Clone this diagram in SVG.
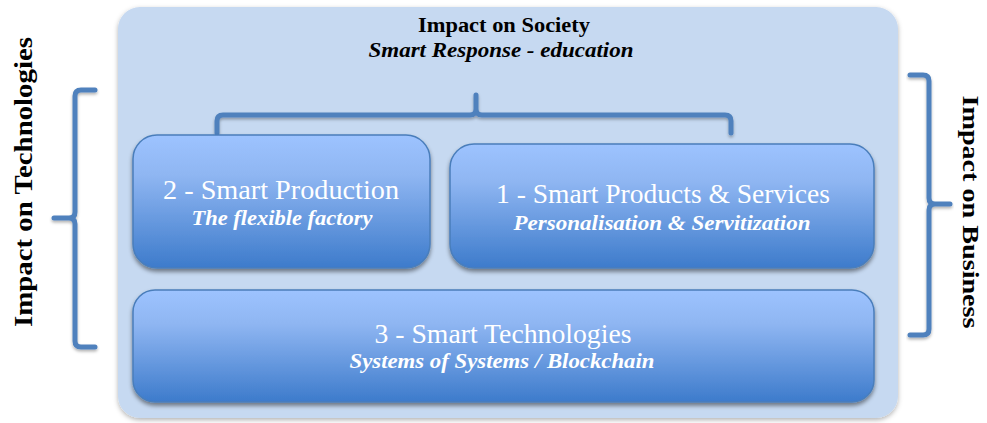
<svg xmlns="http://www.w3.org/2000/svg" width="987" height="423" viewBox="0 0 987 423">
<style>
.title{font-family:"Liberation Serif","DejaVu Serif",serif;font-weight:bold;fill:#000}
.sub{font-family:"Liberation Serif","DejaVu Serif",serif;font-weight:bold;font-style:italic;fill:#000}
.ntitle{font-family:"Liberation Serif","DejaVu Serif",serif;fill:#fff;font-size:27px}
.nsub{font-family:"Liberation Serif","DejaVu Serif",serif;font-weight:bold;font-style:italic;fill:#fff;font-size:20px}
.node{fill:url(#g);stroke:#4a7ebb;stroke-width:1.5;filter:url(#ns)}
.br{fill:none;stroke:#4f81bd;stroke-width:5;stroke-linecap:round;stroke-linejoin:round;filter:url(#bs)}
</style>
<defs>
<linearGradient id="g" x1="0" y1="0" x2="0" y2="1">
<stop offset="0" stop-color="#9dc3ff"/>
<stop offset="0.3" stop-color="#8fb6f2"/>
<stop offset="1" stop-color="#3d7bcb"/>
</linearGradient>
<filter id="ps" x="-5%" y="-5%" width="110%" height="110%">
<feDropShadow dx="0" dy="2" stdDeviation="2.5" flood-color="#000" flood-opacity="0.3"/>
</filter>
<filter id="ns" x="-5%" y="-10%" width="110%" height="125%">
<feDropShadow dx="0" dy="3" stdDeviation="2" flood-color="#000" flood-opacity="0.45"/>
</filter>
<filter id="bs" x="-10%" y="-10%" width="120%" height="130%">
<feDropShadow dx="0" dy="2" stdDeviation="1.5" flood-color="#000" flood-opacity="0.3"/>
</filter>
</defs>
<rect width="987" height="423" fill="#fff"/>
<g id="panel">
<rect x="118" y="7" width="780" height="411" rx="22" fill="#c6d9f1" filter="url(#ps)"/>
<text class="title" x="504" y="32" font-size="20" text-anchor="middle" textLength="172" lengthAdjust="spacingAndGlyphs">Impact on Society</text>
<text class="sub" x="501" y="57" font-size="20" text-anchor="middle" textLength="265" lengthAdjust="spacingAndGlyphs">Smart Response - education</text>
</g>
<g id="connectors">
<path class="br" d="M217,133 V121 Q217,115 223,115 H470 Q476,115 476,109 V95 M476,109 Q476,115 482,115 H725 Q731,115 731,121 V133"/>
<path class="br" d="M95,90 H81 Q75,90 75,96 V212 Q75,218 69,218 H54 M69,218 Q75,218 75,224 V341 Q75,347 81,347 H95"/>
<path class="br" d="M910,75 H923 Q929,75 929,81 V198 Q929,204 935,204 H950 M935,204 Q929,204 929,210 V329 Q929,335 923,335 H910"/>
</g>
<g id="node-2">
<rect class="node" x="133" y="135" width="297" height="133" rx="24"/>
<text class="ntitle" x="281" y="199" text-anchor="middle" textLength="236" lengthAdjust="spacingAndGlyphs">2 - Smart Production</text>
<text class="nsub" x="282" y="225" text-anchor="middle" textLength="181" lengthAdjust="spacingAndGlyphs">The flexible factory</text>
</g>
<g id="node-1">
<rect class="node" x="450" y="144" width="424" height="124" rx="24"/>
<text class="ntitle" x="663" y="203" text-anchor="middle" textLength="334" lengthAdjust="spacingAndGlyphs">1 - Smart Products &amp; Services</text>
<text class="nsub" x="662" y="230" text-anchor="middle" textLength="297" lengthAdjust="spacingAndGlyphs">Personalisation &amp; Servitization</text>
</g>
<g id="node-3">
<rect class="node" x="133" y="290" width="741" height="112" rx="22"/>
<text class="ntitle" x="503" y="343" text-anchor="middle" textLength="257" lengthAdjust="spacingAndGlyphs">3 - Smart Technologies</text>
<text class="nsub" x="502" y="368" text-anchor="middle" textLength="305" lengthAdjust="spacingAndGlyphs">Systems of Systems / Blockchain</text>
</g>
<g id="label-technologies">
<text class="title" font-size="26" text-anchor="middle" transform="translate(32,182) rotate(-90)" textLength="290" lengthAdjust="spacingAndGlyphs">Impact on Technologies</text>
</g>
<g id="label-business">
<text class="title" font-size="24" text-anchor="middle" transform="translate(963,212) rotate(90)" textLength="233" lengthAdjust="spacingAndGlyphs">Impact on Business</text>
</g>
</svg>
